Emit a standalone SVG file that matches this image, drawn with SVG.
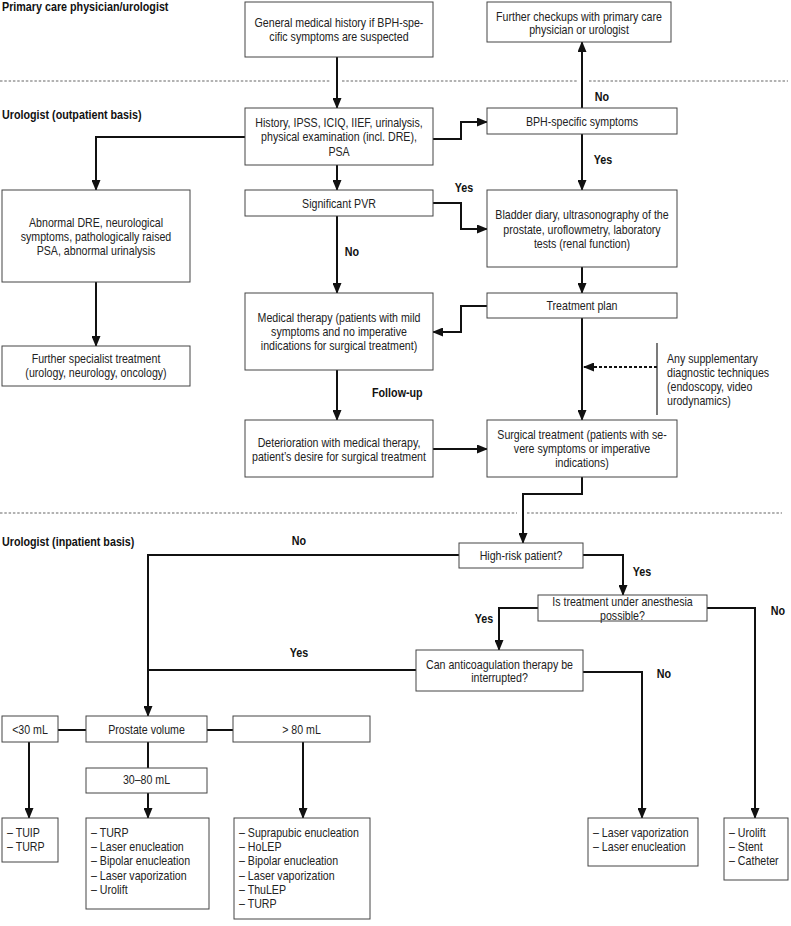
<svg xmlns="http://www.w3.org/2000/svg" width="791" height="926" viewBox="0 0 791 926">
<defs>
<marker id="ah" markerUnits="userSpaceOnUse" markerWidth="11" markerHeight="9" refX="10" refY="4.5" orient="auto"><path d="M0,0 L11,4.5 L0,9 z" fill="#111"/></marker>
<style>
.box{fill:#fff;stroke:#444;stroke-width:1}
.t{font-family:"Liberation Sans",Arial,sans-serif;font-size:12.5px;fill:#222;text-anchor:middle}
.tl{font-family:"Liberation Sans",Arial,sans-serif;font-size:12.5px;fill:#222}
.b{font-family:"Liberation Sans",Arial,sans-serif;font-size:12.5px;font-weight:bold;fill:#111}
.bc{font-family:"Liberation Sans",Arial,sans-serif;font-size:12.5px;font-weight:bold;fill:#111;text-anchor:middle}
.c{fill:none;stroke:#111;stroke-width:2}
.a{marker-end:url(#ah)}
.sep{fill:none;stroke:#999;stroke-width:1.6;stroke-dasharray:2.5 1.8}
.dot{fill:none;stroke:#111;stroke-width:2;stroke-dasharray:3 2}
</style>
</defs>
<rect width="791" height="926" fill="#fff"/>

<g id="separators">
<path class="sep" d="M0,81 H330 M342,81 H577 M589,81 H788"/>
<path class="sep" d="M0,513 H517 M527,513 H782"/>
</g>

<g id="section-labels">
<g transform="translate(2 0) scale(0.86 1)"><text class="b" y="11">Primary care physician/urologist</text></g>
<g transform="translate(2 0) scale(0.86 1)"><text class="b" y="119">Urologist (outpatient basis)</text></g>
<g transform="translate(2 0) scale(0.86 1)"><text class="b" y="546">Urologist (inpatient basis)</text></g>
</g>

<g id="connectors">
<path class="c a" d="M337,57 V108"/>
<path class="c a" d="M245,137 H96 V190"/>
<path class="c a" d="M337,165 V190"/>
<path class="c a" d="M433,139 H461 V122 H487"/>
<path class="c a" d="M582,108 V42"/>
<path class="c a" d="M582,134 V190"/>
<path class="c a" d="M433,203 H461 V229 H487"/>
<path class="c a" d="M337,216 V293"/>
<path class="c a" d="M96,282 V346"/>
<path class="c a" d="M582,267 V293"/>
<path class="c a" d="M487,306 H461 V332 H433"/>
<path class="c a" d="M582,318 V420"/>
<path class="c a" d="M337,370 V420"/>
<path class="c a" d="M433,449 H487"/>
<path class="dot a" d="M657,367 H584"/>
<path class="c a" d="M582,477 V494 H523 V543"/>
<path class="c a" d="M459,555 H148 V716"/>
<path class="c a" d="M583,555 H623 V595"/>
<path class="c a" d="M707,608 H755 V818"/>
<path class="c a" d="M538,608 H499 V650"/>
<path class="c" d="M416,670 H148"/>
<path class="c a" d="M583,672 H642 V818"/>
<path class="c" d="M58,730 H86 M207,730 H233 M148,742 V768"/>
<path class="c a" d="M29,742 V818"/>
<path class="c a" d="M148,793 V818"/>
<path class="c a" d="M303,742 V818"/>
</g>

<g id="connector-labels">
<g transform="translate(602 0) scale(0.86 1)"><text class="bc" y="101">No</text></g>
<g transform="translate(603 0) scale(0.86 1)"><text class="bc" y="164">Yes</text></g>
<g transform="translate(464 0) scale(0.86 1)"><text class="bc" y="192">Yes</text></g>
<g transform="translate(352 0) scale(0.86 1)"><text class="bc" y="256">No</text></g>
<g transform="translate(372 0) scale(0.86 1)"><text class="b" y="397">Follow-up</text></g>
<g transform="translate(299 0) scale(0.86 1)"><text class="bc" y="545">No</text></g>
<g transform="translate(642 0) scale(0.86 1)"><text class="bc" y="576">Yes</text></g>
<g transform="translate(778 0) scale(0.86 1)"><text class="bc" y="615">No</text></g>
<g transform="translate(484 0) scale(0.86 1)"><text class="bc" y="623">Yes</text></g>
<g transform="translate(299 0) scale(0.86 1)"><text class="bc" y="657">Yes</text></g>
<g transform="translate(664 0) scale(0.86 1)"><text class="bc" y="678">No</text></g>
</g>

<g id="n-general"><rect class="box" x="245" y="2" width="188" height="55"/>
<g transform="translate(339 0) scale(0.85 1)"><text class="t" y="27">General medical history if BPH-spe-</text><text class="t" y="41">cific symptoms are suspected</text></g></g>

<g id="n-further"><rect class="box" x="487" y="2" width="184" height="40"/>
<g transform="translate(579 0) scale(0.85 1)"><text class="t" y="21">Further checkups with primary care</text><text class="t" y="34">physician or urologist</text></g></g>

<g id="n-history"><rect class="box" x="245" y="108" width="188" height="57"/>
<g transform="translate(339 0) scale(0.85 1)"><text class="t" y="127">History, IPSS, ICIQ, IIEF, urinalysis,</text><text class="t" y="141">physical examination (incl. DRE),</text><text class="t" y="156">PSA</text></g></g>

<g id="n-bph"><rect class="box" x="487" y="108" width="190" height="26"/>
<g transform="translate(582 0) scale(0.85 1)"><text class="t" y="126">BPH-specific symptoms</text></g></g>

<g id="n-abnormal"><rect class="box" x="2" y="190" width="188" height="92"/>
<g transform="translate(96 0) scale(0.85 1)"><text class="t" y="227">Abnormal DRE, neurological</text><text class="t" y="241">symptoms, pathologically raised</text><text class="t" y="255">PSA, abnormal urinalysis</text></g></g>

<g id="n-pvr"><rect class="box" x="245" y="190" width="188" height="26"/>
<g transform="translate(339 0) scale(0.85 1)"><text class="t" y="208">Significant PVR</text></g></g>

<g id="n-bladder"><rect class="box" x="487" y="190" width="190" height="77"/>
<g transform="translate(582 0) scale(0.85 1)"><text class="t" y="219">Bladder diary, ultrasonography of the</text><text class="t" y="234">prostate, uroflowmetry, laboratory</text><text class="t" y="248">tests (renal function)</text></g></g>

<g id="n-treatplan"><rect class="box" x="487" y="293" width="190" height="25"/>
<g transform="translate(582 0) scale(0.85 1)"><text class="t" y="310">Treatment plan</text></g></g>

<g id="n-medical"><rect class="box" x="245" y="293" width="188" height="77"/>
<g transform="translate(339 0) scale(0.85 1)"><text class="t" y="322">Medical therapy (patients with mild</text><text class="t" y="336">symptoms and no imperative</text><text class="t" y="350">indications for surgical treatment)</text></g></g>

<g id="n-specialist"><rect class="box" x="2" y="346" width="188" height="40"/>
<g transform="translate(96 0) scale(0.85 1)"><text class="t" y="363">Further specialist treatment</text><text class="t" y="377">(urology, neurology, oncology)</text></g></g>

<g id="n-supplementary"><path d="M657,343 V415" stroke="#222" stroke-width="1.2" fill="none"/>
<g transform="translate(667 0) scale(0.85 1)"><text class="tl" y="363">Any supplementary</text><text class="tl" y="377">diagnostic techniques</text><text class="tl" y="391">(endoscopy, video</text><text class="tl" y="405">urodynamics)</text></g></g>

<g id="n-deterioration"><rect class="box" x="245" y="420" width="188" height="57"/>
<g transform="translate(339 0) scale(0.85 1)"><text class="t" y="447">Deterioration with medical therapy,</text><text class="t" y="461">patient’s desire for surgical treatment</text></g></g>

<g id="n-surgical"><rect class="box" x="487" y="420" width="190" height="57"/>
<g transform="translate(582 0) scale(0.85 1)"><text class="t" y="439">Surgical treatment (patients with se-</text><text class="t" y="453">vere symptoms or imperative</text><text class="t" y="467">indications)</text></g></g>

<g id="n-highrisk"><rect class="box" x="459" y="543" width="124" height="25"/>
<g transform="translate(521 0) scale(0.85 1)"><text class="t" y="560">High-risk patient?</text></g></g>

<g id="n-anesthesia"><rect class="box" x="538" y="595" width="169" height="26"/>
<g transform="translate(622.5 0) scale(0.85 1)"><text class="t" y="606">Is treatment under anesthesia</text><text class="t" y="620">possible?</text></g></g>

<g id="n-anticoag"><rect class="box" x="416" y="650" width="167" height="41"/>
<g transform="translate(499.5 0) scale(0.85 1)"><text class="t" y="669">Can anticoagulation therapy be</text><text class="t" y="682">interrupted?</text></g></g>

<g id="n-lt30"><rect class="box" x="2" y="716" width="56" height="26"/>
<g transform="translate(30 0) scale(0.85 1)"><text class="t" y="734">&lt;30 mL</text></g></g>

<g id="n-prostate"><rect class="box" x="86" y="716" width="121" height="26"/>
<g transform="translate(146.5 0) scale(0.85 1)"><text class="t" y="734">Prostate volume</text></g></g>

<g id="n-gt80"><rect class="box" x="233" y="716" width="137" height="26"/>
<g transform="translate(301.5 0) scale(0.85 1)"><text class="t" y="734">&gt; 80 mL</text></g></g>

<g id="n-3080"><rect class="box" x="86" y="768" width="121" height="25"/>
<g transform="translate(146.5 0) scale(0.85 1)"><text class="t" y="784">30–80 mL</text></g></g>

<g id="n-list-small"><rect class="box" x="2" y="818" width="56" height="44"/>
<g transform="translate(7 0) scale(0.85 1)"><text class="tl" y="837">– TUIP</text><text class="tl" y="851">– TURP</text></g></g>

<g id="n-list-medium"><rect class="box" x="86" y="818" width="123" height="91"/>
<g transform="translate(91 0) scale(0.85 1)"><text class="tl" y="837">– TURP</text><text class="tl" y="851">– Laser enucleation</text><text class="tl" y="865">– Bipolar enucleation</text><text class="tl" y="880">– Laser vaporization</text><text class="tl" y="894">– Urolift</text></g></g>

<g id="n-list-large"><rect class="box" x="234" y="818" width="136" height="101"/>
<g transform="translate(239 0) scale(0.85 1)"><text class="tl" y="837">– Suprapubic enucleation</text><text class="tl" y="851">– HoLEP</text><text class="tl" y="865">– Bipolar enucleation</text><text class="tl" y="880">– Laser vaporization</text><text class="tl" y="894">– ThuLEP</text><text class="tl" y="908">– TURP</text></g></g>

<g id="n-list-laser"><rect class="box" x="588" y="818" width="110" height="48"/>
<g transform="translate(593 0) scale(0.85 1)"><text class="tl" y="837">– Laser vaporization</text><text class="tl" y="851">– Laser enucleation</text></g></g>

<g id="n-list-urolift"><rect class="box" x="724" y="818" width="64" height="62"/>
<g transform="translate(729 0) scale(0.85 1)"><text class="tl" y="837">– Urolift</text><text class="tl" y="851">– Stent</text><text class="tl" y="865">– Catheter</text></g></g>
</svg>
